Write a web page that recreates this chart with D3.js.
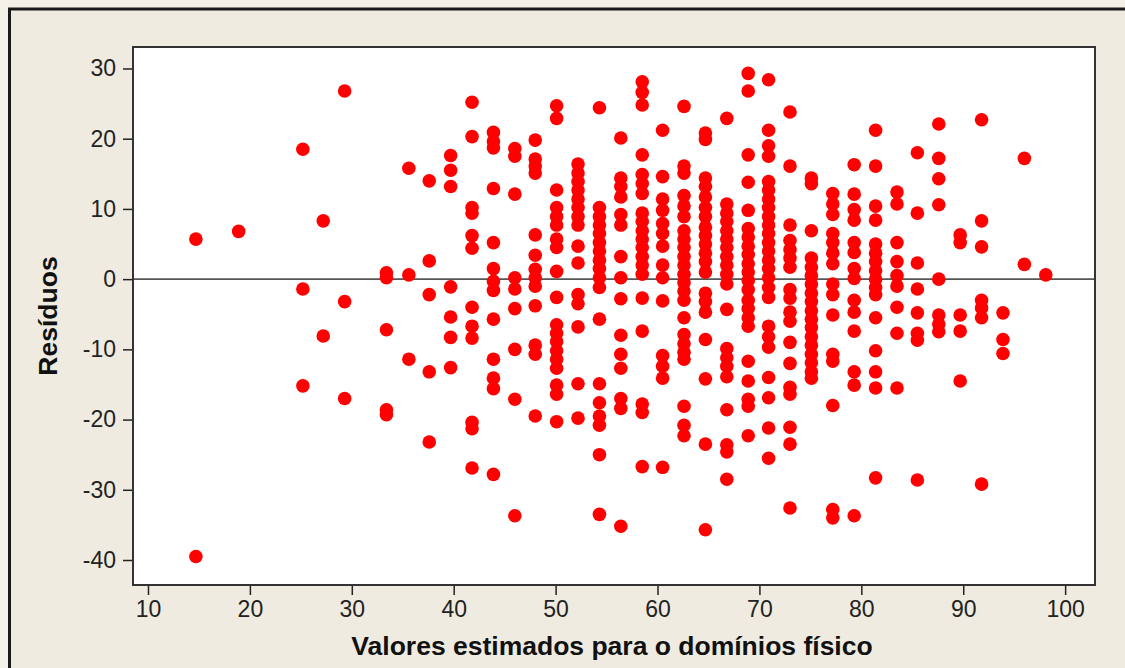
<!DOCTYPE html>
<html>
<head>
<meta charset="utf-8">
<script src="https://cdn.jsdelivr.net/npm/d3@7"></script>
<style>
  html, body { margin: 0; padding: 0; background: #f3f0e8; }
  svg { display: block; }
</style>
</head>
<body>
<div id="chart"></div>
<script>
// valores ajustados (colunas) e resíduos
const fitted = [14.7, 18.9, 25.2, 27.2, 29.3, 33.4, 35.6, 37.6, 39.7, 41.8, 43.9, 46.0, 48.0,
  50.1, 52.2, 54.3, 56.4, 58.5, 60.5, 62.6, 64.7, 66.8, 68.9, 70.9, 73.0, 75.1, 77.2, 79.3,
  81.4, 83.5, 85.5, 87.6, 89.7, 91.8, 93.9, 96.0, 98.1];

const residuals = [
  [5.7, -39.5],
  [6.8],
  [18.5, -1.4, -15.2],
  [8.3, -8.1],
  [26.8, -3.2, -17.0],
  [0.9, 0.2, -7.2, -18.6, -19.3],
  [15.8, 0.6, -11.4],
  [14.0, 2.6, -2.2, -13.2, -23.2],
  [17.6, 15.5, 13.2, -1.1, -5.4, -8.3, -12.6],
  [25.2, 20.3, 10.2, 9.4, 6.2, 4.4, -4.0, -6.7, -8.4, -20.4, -21.3, -26.9],
  [20.9, 19.6, 18.7, 12.9, 5.2, 1.5, -0.3, -1.6, -5.7, -11.4, -14.1, -15.6, -27.8],
  [18.6, 17.5, 12.1, 0.2, -1.4, -4.2, -10.0, -17.1, -33.7],
  [19.8, 17.1, 16.1, 15.1, 6.3, 3.4, 1.4, 0.2, -1.0, -3.8, -9.4, -10.7, -19.5],
  [24.7, 22.9, 12.7, 10.2, 8.9, 7.7, 5.7, 4.5, 1.1, -2.6, -6.5, -7.7, -8.9, -10.2, -11.4, -12.7, -15.1, -16.4, -20.3],
  [16.4, 15.1, 13.9, 12.7, 11.4, 10.2, 8.9, 7.7, 4.7, 2.3, -2.2, -3.5, -6.8, -14.9, -19.8],
  [24.4, 10.2, 8.9, 7.7, 6.5, 5.2, 4.0, 2.7, 1.5, 0.2, -1.2, -5.7, -14.9, -17.6, -19.5, -20.8, -25.0, -33.5],
  [20.1, 14.4, 13.2, 11.7, 9.2, 7.7, 3.2, 0.2, -2.8, -8.0, -10.7, -12.7, -17.0, -18.4, -35.2],
  [28.1, 26.6, 24.8, 17.7, 14.9, 13.6, 12.2, 9.4, 8.2, 6.9, 5.7, 4.5, 3.2, 2.0, 0.7, -2.7, -7.4, -17.8, -19.0, -26.7],
  [21.2, 14.6, 11.4, 9.8, 7.9, 6.5, 4.7, 2.0, 0.2, -3.1, -10.9, -12.4, -14.1, -26.8],
  [24.6, 16.1, 15.1, 11.9, 10.4, 8.9, 6.9, 5.7, 4.5, 3.2, 2.0, 0.7, -0.5, -1.7, -3.0, -5.5, -7.9, -9.2, -10.4, -11.4, -18.1, -20.8, -22.3],
  [20.8, 19.9, 14.4, 13.2, 11.7, 10.2, 8.9, 7.4, 6.2, 5.0, 3.7, 2.5, 1.0, -2.0, -3.2, -4.7, -8.6, -14.2, -23.5, -35.7],
  [22.9, 10.7, 9.4, 8.2, 6.9, 5.7, 4.5, 3.2, 2.0, 0.7, -0.7, -4.3, -9.9, -11.2, -12.4, -13.9, -18.6, -23.6, -24.6, -28.5],
  [29.3, 26.8, 17.7, 13.8, 9.8, 7.2, 6.0, 4.7, 3.5, 2.2, 1.0, -0.2, -1.5, -3.0, -4.2, -5.5, -6.7, -11.7, -14.5, -17.1, -18.1, -22.3],
  [28.4, 21.2, 19.0, 17.5, 13.9, 12.7, 11.4, 10.2, 8.9, 7.7, 6.5, 5.2, 4.0, 2.7, 1.5, 0.2, -1.2, -2.6, -6.7, -8.2, -9.7, -14.0, -16.9, -21.2, -25.5],
  [23.8, 16.1, 7.7, 5.5, 4.2, 3.0, 1.7, -1.5, -2.7, -4.7, -6.0, -9.0, -12.0, -15.4, -16.4, -21.1, -23.5, -32.6],
  [14.4, 13.6, 6.9, 3.0, 1.7, 0.5, -0.7, -2.0, -3.2, -4.5, -5.7, -6.9, -8.2, -9.4, -10.7, -11.9, -13.2, -14.1],
  [12.2, 10.7, 9.2, 6.5, 5.2, 3.7, 2.2, -0.7, -2.2, -5.1, -10.7, -11.7, -18.0, -32.8, -34.0],
  [16.3, 12.1, 9.9, 8.4, 5.2, 3.8, 1.5, 0.1, -3.0, -4.7, -7.4, -13.2, -15.1, -33.7],
  [21.2, 16.1, 10.4, 8.4, 5.0, 3.7, 2.5, 1.2, 0.0, -1.2, -2.2, -5.5, -10.2, -13.2, -15.5, -28.3],
  [12.4, 10.7, 5.2, 2.5, 0.5, -1.0, -4.0, -7.7, -15.5],
  [18.0, 9.4, 2.3, -1.4, -4.8, -7.7, -8.7, -28.6],
  [22.1, 17.2, 14.3, 10.6, 0.0, -5.1, -6.4, -7.5],
  [6.3, 5.2, -5.1, -7.4, -14.5],
  [22.7, 8.3, 4.6, -3.0, -4.1, -5.5, -29.2],
  [-4.8, -8.6, -10.6],
  [17.2, 2.1],
  [0.6]
];

const xTicks = [10, 20, 30, 40, 50, 60, 70, 80, 90, 100];
const yTicks = [-40, -30, -20, -10, 0, 10, 20, 30];
const xTitle = "Valores estimados para o domínios físico";
const yTitle = "Resíduos";

const width = 1125;
const height = 668;
const plot = { left: 133, right: 1095, top: 47, bottom: 585 };
const font = "'Liberation Sans', Arial, sans-serif";

const svg = d3.select("#chart")
  .append("svg")
  .attr("width", width)
  .attr("height", height);

// moldura externa
svg.append("rect")
  .attr("x", 9.5).attr("y", 9)
  .attr("width", width + 20).attr("height", height + 20)
  .attr("fill", "#efebe0")
  .attr("stroke", "#1a1a1a")
  .attr("stroke-width", 3);

const x = d3.scaleLinear().domain([8.53, 102.93]).range([plot.left, plot.right]);
const y = d3.scaleLinear().domain([-43.56, 33.06]).range([plot.bottom, plot.top]);

svg.append("rect")
  .attr("x", plot.left).attr("y", plot.top)
  .attr("width", plot.right - plot.left)
  .attr("height", plot.bottom - plot.top)
  .attr("fill", "#ffffff");

// eixos (hífen simples no sinal negativo, como no original)
const fmt = d => String(d);
const xAxis = svg.append("g")
  .attr("transform", `translate(0,${plot.bottom})`)
  .call(d3.axisBottom(x).tickValues(xTicks).tickFormat(fmt).tickSize(10).tickPadding(6).tickSizeOuter(0));
const yAxis = svg.append("g")
  .attr("transform", `translate(${plot.left},0)`)
  .call(d3.axisLeft(y).tickValues(yTicks).tickFormat(fmt).tickSize(10).tickPadding(7).tickSizeOuter(0));

[xAxis, yAxis].forEach(g => {
  g.select(".domain").remove();
  g.selectAll("line").attr("stroke", "#222").attr("stroke-width", 1.5);
  g.selectAll("text")
    .attr("font-family", font)
    .attr("font-size", "23px")
    .attr("fill", "#222");
});

// linha de referência em zero
svg.append("line")
  .attr("x1", plot.left).attr("x2", plot.right)
  .attr("y1", y(0)).attr("y2", y(0))
  .attr("stroke", "#555")
  .attr("stroke-width", 1.6);

// pontos
const points = [];
residuals.forEach((col, i) => col.forEach(r => points.push({ fit: fitted[i], res: r })));

svg.append("g")
  .selectAll("circle")
  .data(points)
  .join("circle")
  .attr("cx", d => x(d.fit))
  .attr("cy", d => y(d.res))
  .attr("r", 6.8)
  .attr("fill", "#ff0000");

// borda da área do gráfico
svg.append("rect")
  .attr("x", plot.left).attr("y", plot.top)
  .attr("width", plot.right - plot.left)
  .attr("height", plot.bottom - plot.top)
  .attr("fill", "none")
  .attr("stroke", "#333")
  .attr("stroke-width", 2);

// títulos
svg.append("text")
  .attr("x", 612)
  .attr("y", 655)
  .attr("text-anchor", "middle")
  .attr("font-family", font)
  .attr("font-weight", "bold")
  .attr("font-size", "26.5px")
  .attr("fill", "#111")
  .text(xTitle);

svg.append("text")
  .attr("transform", `translate(57,316) rotate(-90)`)
  .attr("text-anchor", "middle")
  .attr("font-family", font)
  .attr("font-weight", "bold")
  .attr("font-size", "26.5px")
  .attr("fill", "#111")
  .text(yTitle);
</script>
</body>
</html>
